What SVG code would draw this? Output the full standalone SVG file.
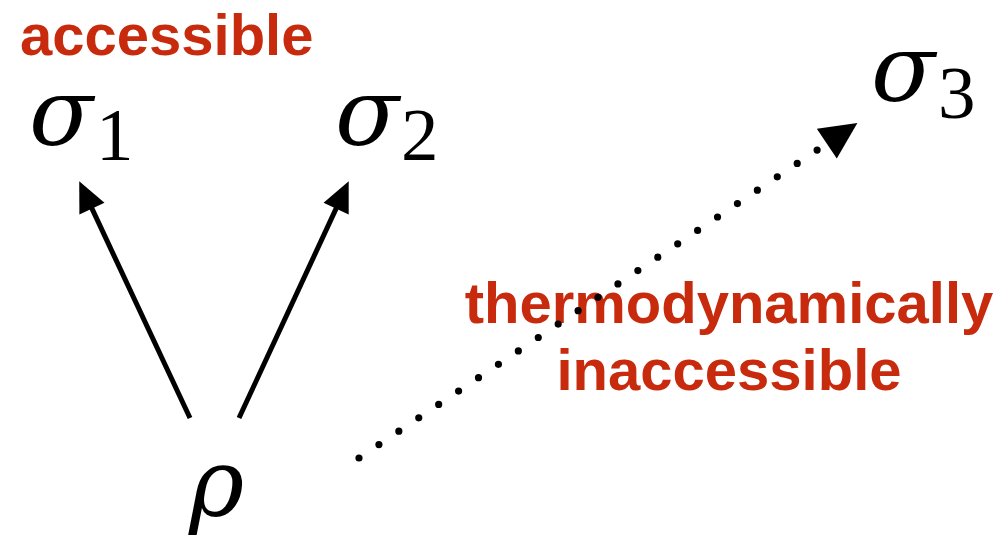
<svg xmlns="http://www.w3.org/2000/svg" width="1003" height="537" viewBox="0 0 1003 537">
<style>
.lbl{font-family:"Liberation Sans",Arial,sans-serif;font-weight:bold;font-size:58px;fill:#C72A0C}
.gr{font-family:"DejaVu Serif","Liberation Serif",serif;font-style:italic;font-size:94px;fill:#000}
.sub{font-family:"Liberation Serif","Times New Roman",serif;font-size:75px;fill:#000}
.arr{stroke:#000;stroke-width:5;fill:none}
.dot{stroke:#000;stroke-width:7.2;stroke-linecap:round;stroke-dasharray:0 24;fill:none}
</style>
<defs>
<marker id="ah" markerUnits="userSpaceOnUse" markerWidth="40" markerHeight="30" viewBox="-2 -13 30 26" refX="14" refY="0" orient="auto">
<path d="M0,-12 L26,0 L0,12 z" fill="#000"/>
</marker>
<marker id="ah2" markerUnits="userSpaceOnUse" markerWidth="60" markerHeight="40" viewBox="-14 -19 52 38" refX="-11" refY="0" orient="auto">
<path d="M0,-17 L35,0 L0,17 z" fill="#000"/>
</marker>
</defs>
<g id="label-accessible"><text class="lbl" x="20" y="55">accessible</text></g>
<g id="node-sigma1"><text class="gr" x="29" y="145">σ</text><text class="sub" x="96" y="160">1</text></g>
<g id="node-sigma2"><text class="gr" x="335" y="145">σ</text><text class="sub" x="401" y="160">2</text></g>
<g id="node-sigma3"><text class="gr" x="871" y="101">σ</text><text class="sub" x="938" y="118">3</text></g>
<g id="node-rho"><text class="gr" x="189" y="516">ρ</text></g>
<g id="label-inaccessible"><text class="lbl" x="729" y="323" text-anchor="middle">thermodynamically</text><text class="lbl" x="729" y="390" text-anchor="middle">inaccessible</text></g>
<g id="connectors">
<line class="arr" x1="190" y1="418" x2="85.1" y2="193.9" marker-end="url(#ah)"/>
<line class="arr" x1="239" y1="418" x2="342.9" y2="193.9" marker-end="url(#ah)"/>
<path class="dot" d="M359,458 L817.2,150" marker-end="url(#ah2)"/>
</g>
</svg>
